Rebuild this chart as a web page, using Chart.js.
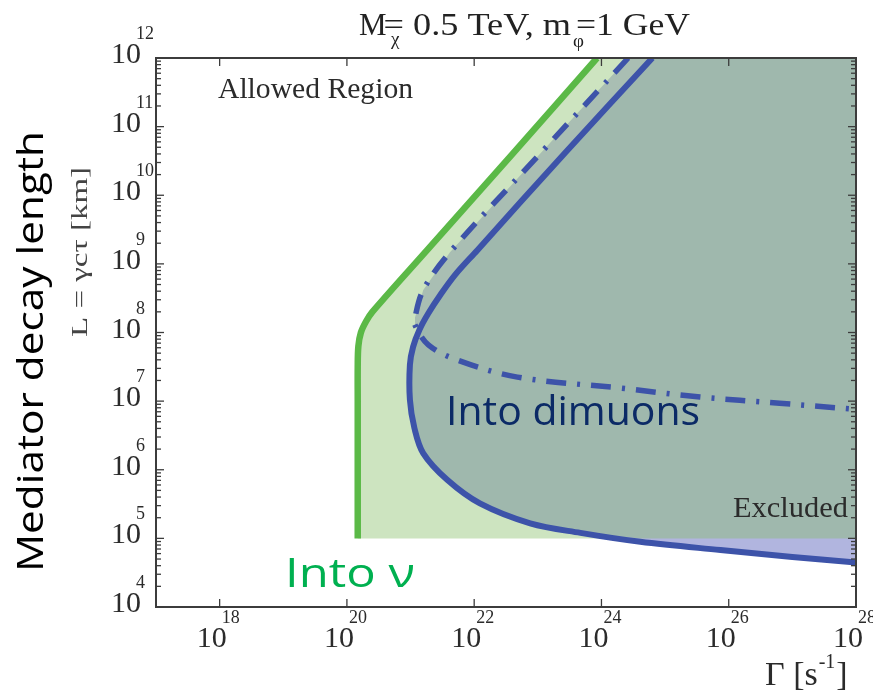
<!DOCTYPE html>
<html>
<head>
<meta charset="utf-8">
<script src="https://cdn.jsdelivr.net/npm/chart.js@4.4.1/dist/chart.umd.min.js"></script>
<style>
  html, body { margin: 0; padding: 0; background: #fff; }
  #wrap { width: 873px; height: 691px; }
</style>
</head>
<body>
<div id="wrap"><canvas id="chart" width="873" height="691"></canvas></div>
<script>
// axis ranges (log10 of the value)
const xMinExp = 17, xMaxExp = 28;
const yMinExp = 4, yMaxExp = 12;
const xTickExps = [18, 20, 22, 24, 26, 28];
const yTickExps = [4, 5, 6, 7, 8, 9, 10, 11, 12];

// lower cut of the shaded band, log10 L
const bandCutExp = 5;

// "Into nu" bound (green), log10 Gamma / log10 L
const nuLogGamma = [20.17, 20.17, 20.17, 20.17, 20.18, 20.22, 20.3, 20.4, 21.26, 22.6, 23.93];
const nuLogL     = [5.0,   6.0,   7.0,   7.5,   7.8,   8.0,   8.16, 8.3,  9.2,   10.6, 12.0];

// dimuon bound (solid blue)
const muLogGamma = [24.8, 23.43, 22.05, 21.7, 21.47, 21.28, 21.14, 21.04, 20.99, 20.99, 21.06, 21.2, 21.58, 22.09, 22.88, 23.67, 24.61, 25.87, 27.0, 28.0];
const muLogL     = [12.0, 10.62, 9.2,   8.84, 8.55,  8.28,  8.04,  7.79,  7.53,  7.02,  6.61,  6.24, 5.85,  5.51,  5.22,  5.08,  4.95,  4.83,  4.73, 4.65];

// dimuon bound, second case (dash-dot blue)
const muAltLogGamma = [24.42, 23.0,  21.62, 21.2, 21.07, 21.07, 21.28, 21.73, 22.68, 24.3, 25.55, 26.8, 28.0];
const muAltLogL     = [12.0,  10.57, 9.17,  8.62, 8.22,  8.11,  7.82,  7.6,   7.35,  7.19, 7.06,  6.97, 6.88];

// 把对数坐标转成点
function toPoints(lx, ly) {
    return lx.map((v, i) => ({ x: Math.pow(10, v), y: Math.pow(10, ly[i]) }));
}

const nuPts = toPoints(nuLogGamma, nuLogL);
const muPts = toPoints(muLogGamma, muLogL);
const muAltPts = toPoints(muAltLogGamma, muAltLogL);
const xMax = Math.pow(10, xMaxExp), yMax = Math.pow(10, yMaxExp), cut = Math.pow(10, bandCutExp);

// closed shapes for the fills
const nuShape = nuPts.concat([{ x: xMax, y: yMax }, { x: xMax, y: cut }]);
const muShape = muPts.concat([{ x: xMax, y: yMax }]);
const muAltShape = muAltPts.concat([{ x: xMax, y: yMax }]);
const muOverlapShape = muPts.map(p => ({ x: p.x, y: Math.max(p.y, cut) })).concat([{ x: xMax, y: yMax }]);

const SERIF = '"Liberation Serif", "Times New Roman", serif';
const SANS = '"Open Sans", "Noto Sans", sans-serif';

// 文字按目标宽度拉伸
function fitText(ctx, text, x, y, font, color, width, angle) {
    ctx.save();
    ctx.translate(x, y);
    if (angle) ctx.rotate(angle);
    ctx.font = font;
    const w = ctx.measureText(text).width;
    ctx.scale(width / w, 1);
    ctx.fillStyle = color;
    ctx.textAlign = 'left';
    ctx.textBaseline = 'alphabetic';
    ctx.fillText(text, 0, 0);
    ctx.restore();
}

function seg(ctx, x1, y1, x2, y2) {
    ctx.beginPath();
    ctx.moveTo(x1, y1);
    ctx.lineTo(x2, y2);
    ctx.stroke();
}

const decorPlugin = {
    id: 'decor',
    afterDraw(chart) {
        const ctx = chart.ctx;
        const a = chart.chartArea;
        const xs = chart.scales.x, ys = chart.scales.y;
        ctx.save();

        // frame
        ctx.strokeStyle = '#3c3c3c';
        ctx.lineWidth = 2;
        ctx.strokeRect(a.left, a.top, a.right - a.left, a.bottom - a.top);

        // inward ticks
        ctx.lineWidth = 1.3;
        xTickExps.forEach(e => {
            const px = xs.getPixelForValue(Math.pow(10, e));
            seg(ctx, px, a.bottom, px, a.bottom - 8);
            seg(ctx, px, a.top, px, a.top + 8);
        });
        for (let e = yMinExp; e < yMaxExp; e++) {
            for (let m = 1; m <= 9; m++) {
                const py = ys.getPixelForValue(m * Math.pow(10, e));
                const len = m === 1 ? 8 : 5;
                seg(ctx, a.left, py, a.left + len, py);
                seg(ctx, a.right, py, a.right - len, py);
            }
        }

        // tick labels 10^n
        ctx.fillStyle = '#2b2b2b';
        ctx.textBaseline = 'alphabetic';
        xTickExps.forEach(e => {
            const px = xs.getPixelForValue(Math.pow(10, e));
            ctx.font = '30px ' + SERIF;
            ctx.textAlign = 'right';
            ctx.fillText('10', px + 7, a.bottom + 40);
            ctx.font = '18px ' + SERIF;
            ctx.textAlign = 'left';
            ctx.fillText(String(e), px + 2, a.bottom + 16);
        });
        yTickExps.forEach(e => {
            const py = ys.getPixelForValue(Math.pow(10, e));
            ctx.font = '30px ' + SERIF;
            ctx.textAlign = 'right';
            ctx.fillText('10', a.left - 15, py + 5);
            ctx.font = '18px ' + SERIF;
            ctx.textAlign = 'left';
            ctx.fillText(String(e), a.left - 20, py - 19);
        });

        // title  M_chi= 0.5 TeV, m_phi=1 GeV
        ctx.textAlign = 'left';
        ctx.fillStyle = '#222';
        ctx.font = '31px ' + SERIF;
        ctx.fillText('M', 359, 35);
        const mEnd = 359 + ctx.measureText('M').width - 3;
        fitText(ctx, '= 0.5 TeV, m', mEnd, 35, '31px ' + SERIF, '#222', 571 - mEnd);
        fitText(ctx, '=1 GeV', 576, 35, '31px ' + SERIF, '#222', 114);
        ctx.fillStyle = '#222';
        ctx.font = '19px ' + SERIF;
        ctx.fillText('\u03c7', 391, 45);
        ctx.fillText('\u03c6', 573, 47);

        // axis titles
        fitText(ctx, 'Mediator decay length', 43, 352 + 220, '36px ' + SANS, '#000', 441, -Math.PI / 2);
        fitText(ctx, 'L = \u03b3c\u03c4 [km]', 87, 252 + 85, '24px ' + SERIF, '#444', 170, -Math.PI / 2);

        ctx.fillStyle = '#2b2b2b';
        ctx.font = '34px ' + SERIF;
        let gx = 765;
        ctx.fillText('\u0393 [s', gx, 685);
        gx += ctx.measureText('\u0393 [s').width;
        ctx.font = '20px ' + SERIF;
        ctx.fillText('-1', gx + 1, 668);
        gx += ctx.measureText('-1').width + 2;
        ctx.font = '34px ' + SERIF;
        ctx.fillText(']', gx, 685);

        // region labels
        fitText(ctx, 'Allowed Region', 218, 98, '30px ' + SERIF, '#2b2b2b', 195);
        fitText(ctx, 'Excluded', 733, 517, '30px ' + SERIF, '#2b2b2b', 115);
        fitText(ctx, 'Into dimuons', 446, 425, '40px ' + SANS, '#0b2a66', 254);
        fitText(ctx, 'Into \u03bd', 285, 587, '40px ' + SANS, '#00b050', 130);

        ctx.restore();
    }
};

const fillBase = { fill: 'shape', borderWidth: 0, pointRadius: 0, tension: 0 };
const lineBase = { fill: false, pointRadius: 0, tension: 0.35, borderCapStyle: 'butt', borderJoinStyle: 'round' };

const ctx = document.getElementById('chart').getContext('2d');
const chart = new Chart(ctx, {
    type: 'line',
    data: {
        datasets: [
            Object.assign({ label: 'nu region', data: nuShape, backgroundColor: '#cde4c0', order: 10 }, fillBase),
            Object.assign({ label: 'mu region', data: muShape, backgroundColor: '#b1b5df', order: 9 }, fillBase),
            Object.assign({ label: 'mu alt region', data: muAltShape, backgroundColor: '#a9beb3', order: 8 }, fillBase),
            Object.assign({ label: 'mu overlap', data: muOverlapShape, backgroundColor: '#9fb8ad', order: 7 }, fillBase),
            Object.assign({ label: 'Into nu', data: nuPts, borderColor: '#5bb947', borderWidth: 6.5, order: 3 }, lineBase),
            Object.assign({ label: 'dimuons alt', data: muAltPts, borderColor: '#3d53a9', borderWidth: 5.5, borderDash: [20, 11, 3, 11], order: 2 }, lineBase),
            Object.assign({ label: 'dimuons', data: muPts, borderColor: '#3d53a9', borderWidth: 6, order: 1 }, lineBase)
        ]
    },
    options: {
        responsive: false,
        animation: false,
        devicePixelRatio: 1,
        layout: { padding: { left: 156, right: 17, top: 58, bottom: 84 } },
        plugins: {
            legend: { display: false },
            tooltip: { enabled: false },
            title: { display: false }
        },
        scales: {
            x: { type: 'logarithmic', min: Math.pow(10, xMinExp), max: xMax, display: false },
            y: { type: 'logarithmic', min: Math.pow(10, yMinExp), max: yMax, display: false }
        }
    },
    plugins: [decorPlugin]
});
</script>
</body>
</html>
